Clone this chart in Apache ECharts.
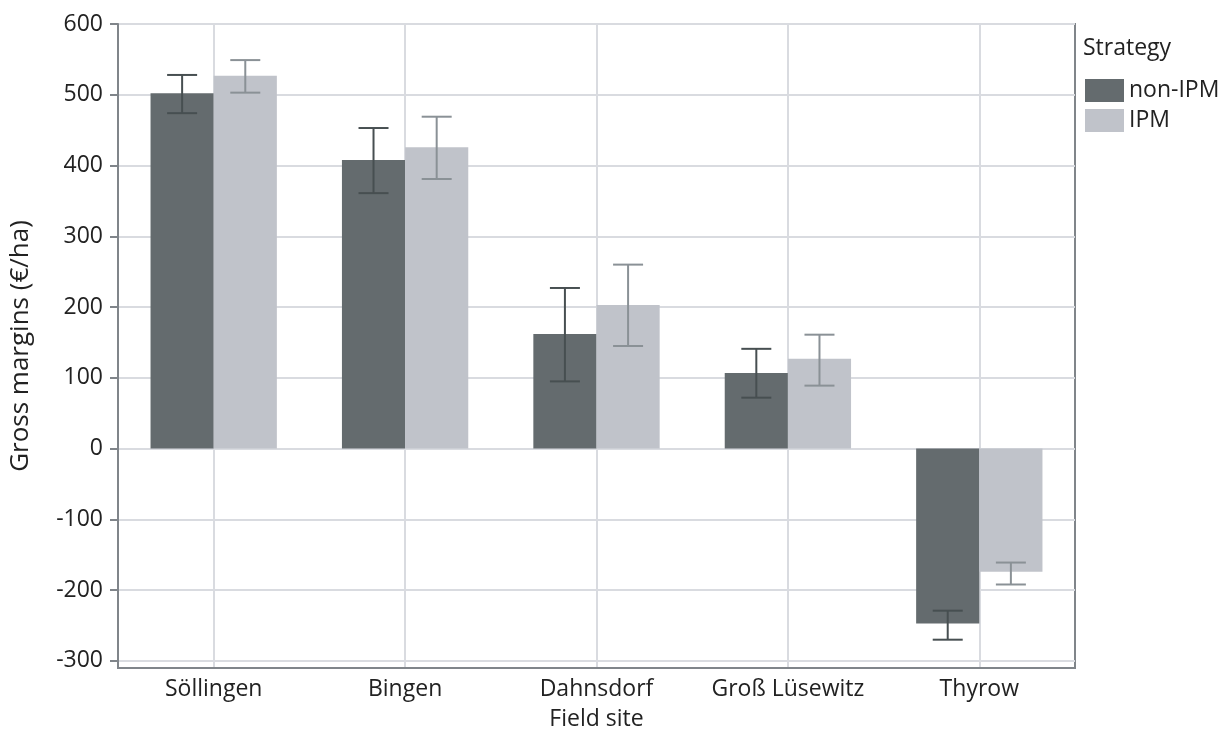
<!DOCTYPE html>
<html><head><meta charset="utf-8">
<script src="https://cdn.jsdelivr.net/npm/echarts@6/dist/echarts.min.js"></script>
<style>html,body{margin:0;padding:0;background:#fff}#c{width:1228px;height:731px}</style>
</head><body><div id="c"></div>
<script>
const categories = ['Söllingen', 'Bingen', 'Dahnsdorf', 'Groß Lüsewitz', 'Thyrow'];
const nonIPM = [502, 408, 162, 107, -247];
const nonIPMLow = [474, 361, 95, 72, -270];
const nonIPMHigh = [528, 453, 227, 141, -229];
const IPM = [527, 426, 203, 127, -174];
const IPMLow = [503, 381, 145, 89, -192];
const IPMHigh = [549, 469, 260, 161, -161];
const yTicks = [-300, -200, -100, 0, 100, 200, 300, 400, 500, 600];
const xGridPositions = categories.map((c, i) => i);

const FONT = '"Open Sans", "Noto Sans", sans-serif';
const TXT = '#222';
const BAR_FRAC = 0.33;

function errorSeries(name, low, high, color, side) {
  return {
    type: 'custom',
    name: name + ' err',
    z: 5,
    data: categories.map((c, i) => [i, low[i], high[i]]),
    renderItem: function (params, api) {
      const i = api.value(0);
      const band = api.size([1, 0])[0];
      const x = api.coord([i, 0])[0] + side * band * BAR_FRAC / 2;
      const yl = api.coord([i, api.value(1)])[1];
      const yh = api.coord([i, api.value(2)])[1];
      const cap = 15;
      const st = { stroke: color, lineWidth: 2 };
      return {
        type: 'group',
        children: [
          { type: 'line', shape: { x1: x, y1: yl, x2: x, y2: yh }, style: st },
          { type: 'line', shape: { x1: x - cap, y1: yl, x2: x + cap, y2: yl }, style: st },
          { type: 'line', shape: { x1: x - cap, y1: yh, x2: x + cap, y2: yh }, style: st }
        ]
      };
    },
    encode: { x: 0, y: [1, 2] },
    silent: true
  };
}

const chart = echarts.init(document.getElementById('c'));
chart.setOption({
  animation: false,
  textStyle: { fontFamily: FONT },
  title: {
    text: 'Strategy', left: 1083, top: 37, padding: 0,
    textStyle: { fontFamily: FONT, fontSize: 23, fontWeight: 'normal', color: TXT }
  },
  legend: {
    data: ['non-IPM', 'IPM'],
    orient: 'vertical', left: 1085, top: 79, padding: 0,
    itemWidth: 39, itemHeight: 23, itemGap: 7,
    icon: 'rect',
    textStyle: { fontFamily: FONT, fontSize: 23, color: TXT, padding: [0, 0, 0, 0] }
  },
  grid: {
    left: 118, right: 153, top: 24, bottom: 63,
    outerBoundsMode: 'none',
    show: true, borderColor: '#80858a', borderWidth: 2, containLabel: false
  },
  xAxis: [{
    type: 'category', data: categories,
    name: 'Field site', nameLocation: 'middle', nameGap: 40,
    nameTextStyle: { fontFamily: FONT, fontSize: 23, color: TXT },
    axisLine: { show: true, onZero: false, lineStyle: { color: '#80858a', width: 2 } },
    axisTick: { show: false },
    axisLabel: { fontFamily: FONT, fontSize: 23, color: TXT, margin: 10, interval: 0 },
    splitLine: { show: false },
    boundaryGap: true
  }, {
    type: 'value', min: -0.5, max: 4.5, position: 'bottom',
    axisLine: { show: false, onZero: false }, axisLabel: { show: false },
    axisTick: { show: false, customValues: xGridPositions },
    splitLine: { show: true, lineStyle: { color: '#d9dbe0', width: 2 } }
  }],
  yAxis: {
    type: 'value', min: -310, max: 600,
    name: 'Gross margins (€/ha)', nameLocation: 'middle', nameGap: 84,
    nameTextStyle: { fontFamily: FONT, fontSize: 26, color: TXT },
    axisLine: { show: true, onZero: false, lineStyle: { color: '#80858a', width: 2 } },
    axisTick: { show: true, length: 8, customValues: yTicks, lineStyle: { color: '#80858a', width: 2 } },
    axisLabel: { fontFamily: FONT, fontSize: 23, color: TXT, margin: 15, customValues: yTicks },
    splitLine: { show: true, lineStyle: { color: '#d9dbe0', width: 2 } }
  },
  series: [
    {
      type: 'bar', name: 'non-IPM', data: nonIPM,
      barWidth: '33%', barGap: '0%',
      itemStyle: { color: '#646b6e' }
    },
    {
      type: 'bar', name: 'IPM', data: IPM,
      barWidth: '33%', barGap: '0%',
      itemStyle: { color: '#c0c3ca' }
    },
    errorSeries('non-IPM', nonIPMLow, nonIPMHigh, '#474f51', -1),
    errorSeries('IPM', IPMLow, IPMHigh, '#8a9196', 1)
  ]
});
</script></body></html>
